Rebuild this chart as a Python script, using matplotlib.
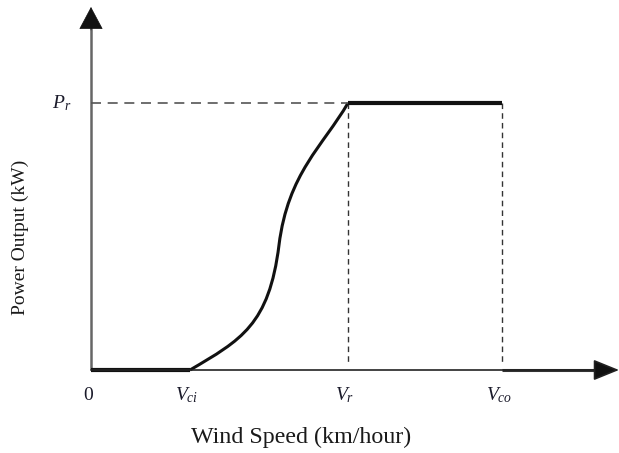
import matplotlib.pyplot as plt
from matplotlib.path import Path
from matplotlib.patches import PathPatch

plt.rcParams['font.family'] = ['Liberation Serif', 'DejaVu Serif']
plt.rcParams['mathtext.fontset'] = 'custom'
plt.rcParams['mathtext.rm'] = 'Liberation Serif'
plt.rcParams['mathtext.it'] = 'Liberation Serif:italic'

# === characteristic points (arbitrary units) ===
v_ci = 99
v_r = 257
v_co = 411
p_r = 267
x_end = 505

# === rising part of the power curve: two cubic pieces (anchor, ctrl, ctrl, anchor, ...) ===
curve_v = [v_ci, 150, 178, 188, 197, 232, v_r]
curve_p = [0, 30, 45, 125, 197, 224, p_r]

tick_pos = [0, v_ci, v_r, v_co]
tick_labels = ['0', r'$V_{ci}$', r'$V_r$', r'$V_{co}$']

fig = plt.figure(figsize=(6.19, 4.53), dpi=100)
ax = fig.add_axes([0, 0, 1, 1])
ax.set_xlim(-91, 528)
ax.set_ylim(-83, 370)
ax.axis('off')

# axes with arrow heads
ax.annotate('', xy=(528, 0), xytext=(0, 0),
            arrowprops=dict(arrowstyle='-|>,head_length=1.6,head_width=0.65',
                            lw=1.2, color='#222222', fc='#111111', shrinkA=0, shrinkB=0))
ax.plot([0, 0], [0, 345], color='#666666', lw=1.8, solid_capstyle='butt')
ax.annotate('', xy=(0, 363), xytext=(0, 340),
            arrowprops=dict(arrowstyle='-|>,head_length=1.5,head_width=0.8',
                            lw=0.5, color='#111111', fc='#111111', shrinkA=0, shrinkB=0))

# guide lines
ax.plot([0, v_r], [p_r, p_r], color='#555555', lw=1.2, dashes=(6, 4))
ax.plot([v_r, v_r], [p_r, 8], color='#333333', lw=1.0, dashes=(4, 3))
ax.plot([v_co, v_co], [p_r, 8], color='#333333', lw=1.0, dashes=(4, 3))

# power curve
ax.plot([0, v_ci], [0, 0], color='#111111', lw=3, solid_capstyle='butt')
codes = [Path.MOVETO] + [Path.CURVE4] * (len(curve_v) - 1)
path = Path(list(zip(curve_v, curve_p)), codes)
ax.add_patch(PathPatch(path, fill=False, ec='#111111', lw=2.2))
ax.plot([v_r, v_co], [p_r, p_r], color='#111111', lw=3, solid_capstyle='butt')
ax.plot([v_co, x_end], [0, 0], color='#333333', lw=2.2, solid_capstyle='butt')

# labels
for pos, lab in zip(tick_pos, tick_labels):
    ax.text(pos - 3, -25, lab, ha='center', va='center', fontsize=14, color='#1a1a2a')
ax.text(-29, p_r, r'$P_r$', ha='center', va='center', fontsize=14, color='#1a1a2a')

ax.text(210, -67, 'Wind Speed (km/hour)', ha='center', va='center', fontsize=17.3, color='#1a1a1a')
ax.text(-71, 133, 'Power Output (kW)', ha='center', va='center', rotation=90,
        fontsize=14, color='#1a1a1a')

fig.savefig('out.png', dpi=100)
